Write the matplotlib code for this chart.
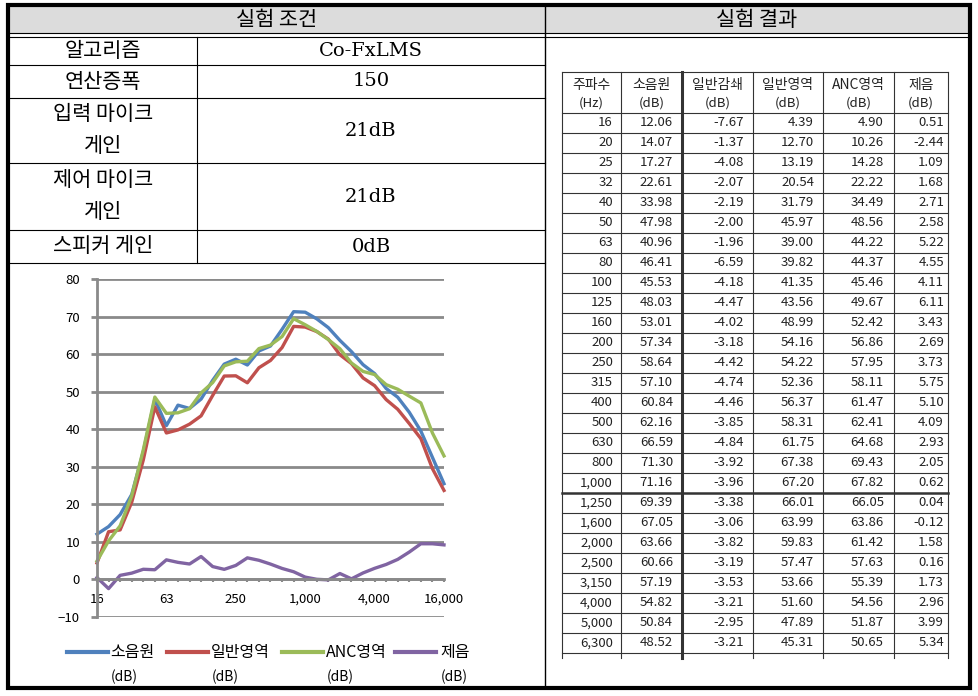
import matplotlib
matplotlib.use("Agg")
import matplotlib.pyplot as plt
from matplotlib.patches import Rectangle

plt.rcParams['font.family'] = ['Noto Sans CJK KR', 'DejaVu Sans']

# 1/3 octave band centres
freq_labels = ["16", "20", "25", "32", "40", "50", "63", "80", "100", "125",
               "160", "200", "250", "315", "400", "500", "630", "800", "1,000",
               "1,250", "1,600", "2,000", "2,500", "3,150", "4,000", "5,000",
               "6,300", "8,000", "10,000", "12,500", "16,000"]

# table values (last four bands)
source_db = [12.06, 14.07, 17.27, 22.61, 33.98, 47.98, 40.96, 46.41, 45.53, 48.03,
             53.01, 57.34, 58.64, 57.10, 60.84, 62.16, 66.59, 71.30, 71.16, 69.39,
             67.05, 63.66, 60.66, 57.19, 54.82, 50.84, 48.52, 44.5, 39.5, 32.5, 25.5]
general_atten = [-7.67, -1.37, -4.08, -2.07, -2.19, -2.00, -1.96, -6.59, -4.18, -4.47,
                 -4.02, -3.18, -4.42, -4.74, -4.46, -3.85, -4.84, -3.92, -3.96, -3.38,
                 -3.06, -3.82, -3.19, -3.53, -3.21, -2.95, -3.21]
general_db = [4.39, 12.70, 13.19, 20.54, 31.79, 45.97, 39.00, 39.82, 41.35, 43.56,
              48.99, 54.16, 54.22, 52.36, 56.37, 58.31, 61.75, 67.38, 67.20, 66.01,
              63.99, 59.83, 57.47, 53.66, 51.60, 47.89, 45.31, 41.5, 37.5, 29.5, 23.7]
anc_db = [4.90, 10.26, 14.28, 22.22, 34.49, 48.56, 44.22, 44.37, 45.46, 49.67,
          52.42, 56.86, 57.95, 58.11, 61.47, 62.41, 64.68, 69.43, 67.82, 66.05,
          63.86, 61.42, 57.63, 55.39, 54.56, 51.87, 50.65, 48.8, 47.0, 39.0, 32.9]
reduction_db = [0.51, -2.44, 1.09, 1.68, 2.71, 2.58, 5.22, 4.55, 4.11, 6.11,
                3.43, 2.69, 3.73, 5.75, 5.10, 4.09, 2.93, 2.05, 0.62, 0.04,
                -0.12, 1.58, 0.16, 1.73, 2.96, 3.99, 5.34, 7.3, 9.5, 9.5, 9.2]
n_table = 27

cond_names = [["알고리즘"], ["연산증폭"], ["입력 마이크", "게인"], ["제어 마이크", "게인"], ["스피커 게인"]]
cond_values = ["Co-FxLMS", "150", "21dB", "21dB", "0dB"]

table_headers = [("주파수", "(Hz)"), ("소음원", "(dB)"), ("일반감쇄", "(dB)"),
                 ("일반영역", "(dB)"), ("ANC영역", "(dB)"), ("제음", "(dB)")]

series_names = ["소음원", "일반영역", "ANC영역", "제음"]
colors = ["#4F81BD", "#C0504D", "#9BBB59", "#8064A2"]

fig = plt.figure(figsize=(9.79, 6.96), dpi=100)
bg = fig.add_axes([0, 0, 1, 1])
bg.set_xlim(0, 979)
bg.set_ylim(696, 0)
bg.axis("off")

# frame and headers
bg.add_patch(Rectangle((8, 5), 962, 28, facecolor="#dcdcdc", edgecolor="none"))
bg.plot([8, 970], [33, 33], color="black", lw=0.8)
bg.plot([8, 970], [36.5, 36.5], color="black", lw=0.8)
bg.plot([545, 545], [5, 688], color="black", lw=1)
bg.text(277, 20, "실험 조건", fontsize=15, ha="center", va="center")
bg.text(757, 20, "실험 결과", fontsize=15, ha="center", va="center")

# condition table
row_edges = [36.5, 65, 98, 163, 230, 263]
for y in row_edges[1:]:
    bg.plot([8, 545], [y, y], color="black", lw=0.8)
bg.plot([197, 197], [36.5, 263], color="black", lw=0.8)
for i in range(len(cond_values)):
    top, bot = row_edges[i], row_edges[i + 1]
    mid = (top + bot) / 2
    names = cond_names[i]
    if len(names) == 1:
        bg.text(103, mid, names[0], fontsize=15, ha="center", va="center")
    else:
        bg.text(103, mid - 17, names[0], fontsize=15, ha="center", va="center")
        bg.text(103, mid + 16, names[1], fontsize=15, ha="center", va="center")
    bg.text(371, mid, cond_values[i], fontsize=14, ha="center", va="center",
            family="DejaVu Serif")

# result table
cols_x = [562, 621, 682, 753, 823, 894, 948]
text_right = [613, 673, 744, 814, 884, 944]
head_top, head_bot, row_h = 72, 113, 20
tab_bot = head_bot + n_table * row_h
bg.plot([cols_x[0], cols_x[-1]], [head_top, head_top], color="#333333", lw=0.8)
for r in range(n_table + 1):
    y = head_bot + r * row_h
    bg.plot([cols_x[0], cols_x[-1]], [y, y], color="#333333",
            lw=1.8 if r == 19 else 0.8)
for c, x in enumerate(cols_x):
    bg.plot([x, x], [head_top, tab_bot + 5], color="#333333",
            lw=2.2 if c == 2 else 0.8)
for c in range(6):
    cx = (cols_x[c] + cols_x[c + 1]) / 2
    bg.text(cx, 85, table_headers[c][0], fontsize=10, ha="center", va="center", color="#222222")
    bg.text(cx, 103, table_headers[c][1], fontsize=9.5, ha="center", va="center", color="#222222")

for i in range(n_table):
    cy = head_bot + i * row_h + row_h / 2
    cells = [freq_labels[i], f"{source_db[i]:.2f}", f"{general_atten[i]:.2f}",
             f"{general_db[i]:.2f}", f"{anc_db[i]:.2f}", f"{reduction_db[i]:.2f}"]
    for c, s in enumerate(cells):
        bg.text(text_right[c], cy, s, fontsize=9.5, ha="right", va="center", color="#222222")

bg.add_patch(Rectangle((8, 5), 962, 683, facecolor="none", edgecolor="black", lw=3))

# chart
ax = fig.add_axes([97 / 979, 1 - 617 / 696, (444 - 97) / 979, (617 - 279) / 696])
x = list(range(len(freq_labels)))
for vals, col in zip([source_db, general_db, anc_db, reduction_db], colors):
    ax.plot(x, vals, color=col, lw=2.4, clip_on=False, solid_joinstyle="round")
ax.set_xlim(0, 30)
ax.set_ylim(-10, 80)
ax.set_yticks(range(-10, 81, 10))
ax.grid(axis="y", color="#8a8a8a", lw=2)
ax.set_axisbelow(True)
for s in ["top", "right"]:
    ax.spines[s].set_visible(False)
ax.spines["left"].set_color("#8a8a8a")
ax.spines["left"].set_linewidth(2)
ax.spines["bottom"].set_position(("data", 0))
ax.spines["bottom"].set_color("#8a8a8a")
ax.spines["bottom"].set_linewidth(2)
ax.set_xticks(x)
ax.set_xticklabels([lab if i % 6 == 0 else "" for i, lab in enumerate(freq_labels)])
ax.tick_params(axis="x", length=2.5, width=1.5, color="#8a8a8a", pad=7, labelsize=9.5)
ax.tick_params(axis="y", length=4.3, width=2, color="#8a8a8a", pad=8, labelsize=9.5)

# legend
leg_line_x = [67, 167, 282, 395]
leg_text_x = [110, 211, 326, 440]
for name, col, lx, tx in zip(series_names, colors, leg_line_x, leg_text_x):
    bg.plot([lx, lx + 41], [652, 652], color=col, lw=3)
    bg.text(tx, 652, name, fontsize=11.5, ha="left", va="center")
    bg.text(tx + 1, 677, "(dB)", fontsize=10, ha="left", va="center")

fig.savefig("out.png", dpi=100)
